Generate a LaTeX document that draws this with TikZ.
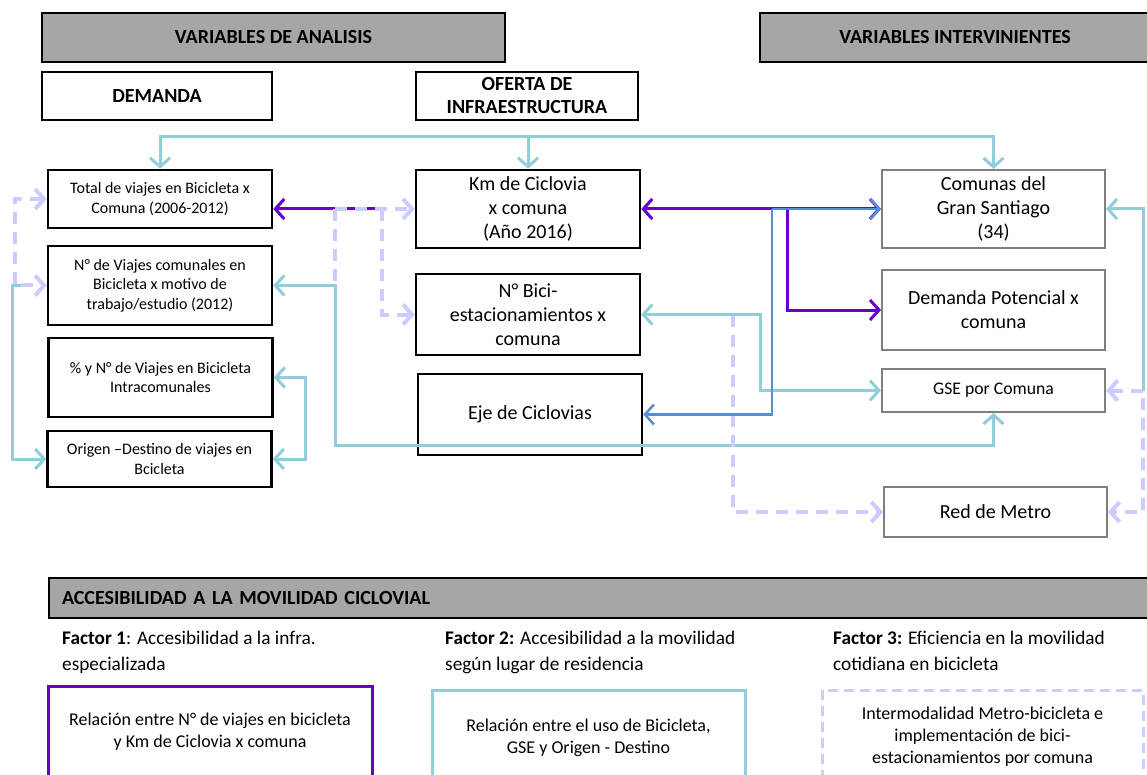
\documentclass[tikz,border=0pt]{standalone}
\usepackage{fontspec}
\setmainfont{Carlito}
\usetikzlibrary{arrows.meta}
\definecolor{violeta}{RGB}{102,0,204}
\definecolor{celeste}{RGB}{146,205,220}
\definecolor{azul}{RGB}{85,142,213}
\definecolor{lila}{RGB}{204,204,255}
\definecolor{gris}{RGB}{166,166,166}
\definecolor{grisborde}{RGB}{127,127,127}
\begin{document}
\begin{tikzpicture}[x=1pt,y=-1pt]

      \tikzset{titulo/.style={draw, line width=2pt, fill=gris, inner sep=0pt, font=\bfseries\fontsize{20}{23}\selectfont},
               seccion/.style={draw, line width=2pt, inner sep=0pt, align=center, font=\bfseries\fontsize{20}{23}\selectfont},
               caja/.style={draw, line width=2.5pt, inner sep=0pt, align=center, minimum width=224pt, font=\fontsize{16}{19.5}\selectfont},
               cajagris/.style={draw=grisborde, line width=2pt, inner sep=0pt, align=center, minimum width=223pt, font=\fontsize{20}{24}\selectfont},
               factor/.style={anchor=north west, align=left, inner sep=0pt, font=\fontsize{19.3}{26}\selectfont},
               relacion/.style={line width=3pt, inner sep=0pt, align=center, font=\fontsize{18}{22}\selectfont},
               linea/.style={line width=3pt, >={Straight Barb[length=9pt,width=20pt]}},
               discont/.style={linea, line width=4pt, dash pattern=on 12pt off 8pt}}
      \clip (0,0) rectangle (1147,775);
%% Encabezados
      	\node[titulo, minimum width=463pt, minimum height=49pt] (analisis) at (273.5,37.5) {VARIABLES DE  ANALISIS};
      	\node[titulo, minimum width=390pt, minimum height=49pt] (intervin) at (955,37.5) {VARIABLES INTERVINIENTES};
      	\node[seccion, minimum width=230pt, minimum height=48pt] (demanda) at (157,96) {DEMANDA};
      	\node[seccion, minimum width=222pt, minimum height=48pt] (oferta) at (527,96) {OFERTA DE\\INFRAESTRUCTURA};
%% Demanda
      	\node[caja, minimum height=58pt] (l1) at (160,199) {Total de viajes en Bicicleta x\\Comuna  (2006-2012)};
      	\node[caja, minimum height=79pt] (l2) at (160,285.5) {N° de Viajes  comunales en\\Bicicleta x motivo de\\trabajo/estudio  (2012)};
      	\node[caja, minimum height=79pt] (l3) at (160.5,377.5) {\% y N° de Viajes en Bicicleta\\Intracomunales};
      	\node[caja, minimum height=56pt] (l4) at (159.5,459) {Origen –Destino de viajes en\\Bcicleta};
%% Oferta
      	\node[caja, minimum height=78pt, font=\fontsize{20}{24}\selectfont] (m1) at (528,209) {Km de Ciclovia\\x comuna\\(Año 2016)};
      	\node[caja, minimum height=81pt, font=\fontsize{20}{24}\selectfont] (m2) at (528,314.5) {N° Bici-\\estacionamientos x\\comuna};
      	\node[caja, minimum height=81pt, font=\fontsize{20}{24}\selectfont] (m3) at (530,414.5) {Eje de Ciclovias};
%% Intervinientes
      	\node[cajagris, minimum height=78pt] (r1) at (993.5,209) {Comunas del\\Gran Santiago\\(34)};
      	\node[cajagris, minimum height=80pt] (r2) at (993.5,310) {Demanda Potencial  x\\comuna};
      	\node[cajagris, minimum height=43pt, font=\fontsize{17.7}{21}\selectfont] (r3) at (993.5,390.5) {GSE por Comuna};
      	\node[cajagris, minimum height=50pt] (r4) at (995.5,512) {Red de Metro};
%Puntos de quiebre
      	\coordinate (bus) at (0,137);
      	\coordinate (j1) at (335,209);
      	\coordinate (j2) at (382,209);
      	\coordinate (b1) at (335,445);
      	\coordinate (iz) at (15,0);
      	\coordinate (iz2) at (12,0);
      	\coordinate (der) at (305,0);
      	\coordinate (a1) at (772,209);
      	\coordinate (p1) at (787,209);
      	\coordinate (c1) at (760,0);
      	\coordinate (d1) at (733,0);
      	\coordinate (e1) at (1143,0);
%Conectores
		\draw[linea, celeste, <->] (l1.north) -- (l1.north |- bus) -- (r1.north |- bus) -- (r1.north);
		\draw[linea, celeste, ->] (m1.north |- bus) -- (m1.north);
		\draw[linea, celeste, ->] ([xshift=-16pt]l2.west) -- (l2.west -| iz2) -- (l4.west -| iz2) -- (l4.west);
		\draw[discont, lila, <->] (l1.west) -- (l1.west -| iz) -- (l2.west -| iz) -- (l2.west);
		\draw[linea, celeste, <->] (l3.east) -- (l3.east -| der) -- (l4.east -| der) -- (l4.east);
		\draw[discont, lila, ->] (j1) -- (m1.west);
		\draw[linea, violeta, ->] (j1) -- (m1.west -| l1.east);
		\draw[linea, violeta, dash pattern=on 8pt off 12pt, dash phase=-12pt] (j1) -- (j2);
		\draw[discont, lila] (j1) -- (j1 |- l2.east);
		\draw[discont, lila, ->] (j2) -- (j2 |- m2.west) -- (m2.west);
		\draw[linea, celeste, <->] (l2.east) -- (j1 |- l2.east) -- (b1) -- (b1 -| r3.south) -- (r3.south);
		\draw[discont, lila, ->] (m2.east -| d1) -- (r4.west -| d1) -- (r4.west);
		\draw[linea, celeste, <->] (m2.east) -- (m2.east -| c1) -- (r3.west -| c1) -- (r3.west);
		\draw[linea, violeta, <->] (m1.east) -- (r1.west);
		\draw[linea, violeta, ->] (p1) -- (p1 |- r2.west) -- (r2.west);
		\draw[linea, azul, line width=2.5pt, ->] (a1) -- (r1.west);
		\draw[linea, azul, line width=2.5pt, ->] (a1) -- (a1 |- m3.east) -- (m3.east);
		\draw[linea, celeste, ->] (r3.east -| e1) -- (r1.east -| e1) -- (r1.east);
		\draw[discont, lila, <->] (r3.east) -- (r3.east -| e1) -- (r4.east -| e1) -- (r4.east);
%% Accesibilidad
      	\node[titulo, anchor=west, minimum height=40pt, text width=1076pt, inner xsep=13pt, align=left] (acceso) at (48,598) {ACCESIBILIDAD A LA MOVILIDAD CICLOVIAL};
      	\node[factor] (f1) at (62,631) {\textbf{Factor 1}: Accesibilidad a la infra.\\especializada};
      	\node[factor] (f2) at (445,631) {\textbf{Factor 2:} Accesibilidad a la movilidad\\según lugar de residencia};
      	\node[factor] (f3) at (833,631) {\textbf{Factor 3:} Eficiencia en la movilidad\\cotidiana en bicicleta};
      	\node[relacion, draw=violeta, minimum width=324pt, minimum height=92pt] (rel1) at (210,732) {Relación entre N° de viajes en bicicleta\\y Km de Ciclovia x comuna};
      	\node[relacion, draw=celeste, minimum width=313pt, minimum height=95pt] (rel2) at (588.5,737.5) {Relación entre el uso de Bicicleta,\\GSE y Origen - Destino};
      	\node[relacion, draw=lila, dash pattern=on 10pt off 6pt, minimum width=321pt, minimum height=94pt] (rel3) at (982.5,737) {Intermodalidad  Metro-bicicleta e\\implementación de bici-\\estacionamientos por comuna};

	\end{tikzpicture}
\end{document}
